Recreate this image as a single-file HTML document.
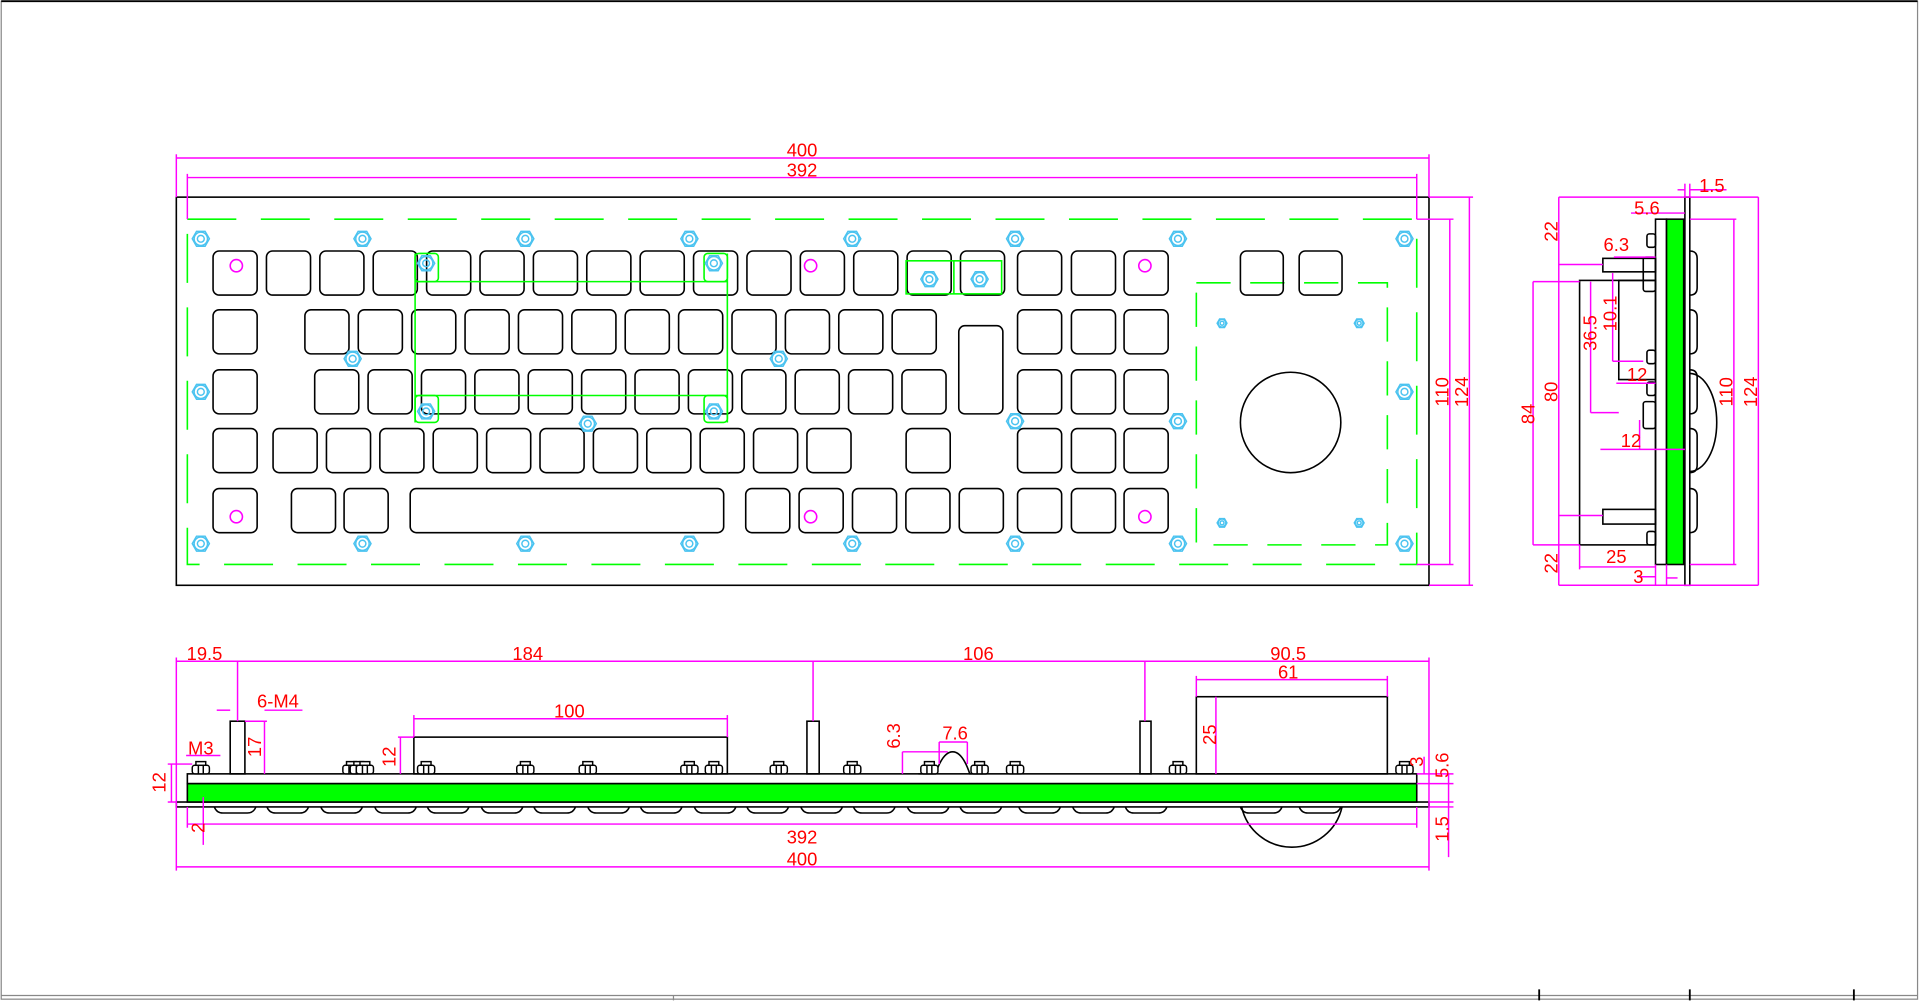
<!DOCTYPE html>
<html><head><meta charset="utf-8"><style>
html,body{margin:0;padding:0;background:#fff;overflow:hidden}
svg{display:block}
text{font-family:"Liberation Sans",sans-serif;fill:#f00;font-size:15px}
</style></head><body>
<svg id="s" width="1920" height="1001" viewBox="0 0 1568 817.5" preserveAspectRatio="none" xmlns="http://www.w3.org/2000/svg">
<g fill="none" stroke="#888" stroke-width="1">
<rect x="1" y="1" width="1565" height="815"/>
<line x1="1" y1="813" x2="1566" y2="813"/>
<line x1="550" y1="813" x2="550" y2="817"/>
</g>
<g stroke="#000" stroke-width="1.5"><line x1="1257" y1="808" x2="1257" y2="817"/><line x1="1380" y1="808" x2="1380" y2="817"/><line x1="1514" y1="808" x2="1514" y2="817"/></g>
<line x1="1" y1="1" x2="1566" y2="1" stroke="#000" stroke-width="1.5"/>

<!-- TOP VIEW -->
<rect x="144" y="161" width="1023" height="317" fill="none" stroke="#000" stroke-width="1.3"/>
<rect x="153" y="179" width="1004" height="282" fill="none" stroke="#0f0" stroke-width="1.3" stroke-dasharray="40,20"/>
<rect x="977" y="231" width="156" height="214" fill="none" stroke="#0f0" stroke-width="1.3" stroke-dasharray="28,16"/>
<circle cx="1054" cy="345" r="41" fill="none" stroke="#000" stroke-width="1.3"/>
<g id="keys" fill="none" stroke="#000" stroke-width="1.3"></g>
<g fill="none" stroke="#0f0" stroke-width="1.3">
<line x1="339" y1="230" x2="594" y2="230"/><line x1="339" y1="323" x2="594" y2="323"/>
<line x1="339" y1="207" x2="339" y2="345"/><line x1="594" y1="207" x2="594" y2="345"/>
<rect x="339" y="207" width="19" height="23" rx="3"/><rect x="575" y="207" width="19" height="23" rx="3"/>
<rect x="339" y="323" width="19" height="22" rx="3"/><rect x="575" y="323" width="19" height="22" rx="3"/>
<rect x="740" y="213" width="78" height="27"/><line x1="779" y1="213" x2="779" y2="240"/>
</g>
<g id="mag" fill="none" stroke="#f0f" stroke-width="1.3"></g>
<g id="nuts" fill="none" stroke="#4bc3f0" stroke-width="1.2"></g>

<g stroke="#f0f" stroke-width="1.2" fill="none">
<line x1="144" y1="129" x2="1167" y2="129"/><line x1="153" y1="145" x2="1157" y2="145"/>
<line x1="144" y1="126" x2="144" y2="161"/><line x1="1167" y1="126" x2="1167" y2="161"/>
<line x1="153" y1="142" x2="153" y2="179"/><line x1="1157" y1="142" x2="1157" y2="179"/>
<line x1="1184" y1="179" x2="1184" y2="461"/><line x1="1200" y1="161" x2="1200" y2="478"/>
<line x1="1167" y1="161" x2="1203" y2="161"/><line x1="1157" y1="179" x2="1187" y2="179"/>
<line x1="1157" y1="461" x2="1187" y2="461"/><line x1="1167" y1="478" x2="1203" y2="478"/>
</g>
<text x="655" y="128" text-anchor="middle">400</text>
<text x="655" y="144" text-anchor="middle">392</text>
<text transform="translate(1183,320) rotate(-90)" text-anchor="middle">110</text>
<text transform="translate(1199,320) rotate(-90)" text-anchor="middle">124</text>

<!-- SIDE VIEW -->
<g fill="none" stroke="#000" stroke-width="1.3">
<rect x="1376" y="161" width="4" height="317"/>
<rect x="1352" y="179" width="9" height="282"/>
<rect x="1290" y="229" width="62" height="216"/>
<rect x="1309" y="211" width="43" height="11"/>
<rect x="1309" y="416" width="43" height="12"/>
<polyline points="1352,229 1322,229 1322,310 1352,310"/>
<path d="M1380,305 A22,40 0 0 1 1380,385"/>
<path d="M1380,205 q6,0 6,6 v24 q0,6 -6,6"/><path d="M1380,253 q6,0 6,6 v24 q0,6 -6,6"/>
<path d="M1380,302 q6,0 6,6 v24 q0,6 -6,6"/><path d="M1380,350 q6,0 6,6 v24 q0,6 -6,6"/>
<path d="M1380,399 q6,0 6,6 v24 q0,6 -6,6"/>
<rect x="1345" y="191" width="7" height="11" rx="2"/><rect x="1342" y="210" width="10" height="28" rx="2"/>
<rect x="1345" y="286" width="7" height="11" rx="2"/><rect x="1345" y="312" width="7" height="11" rx="2"/>
<rect x="1342" y="328" width="10" height="22" rx="2"/><rect x="1345" y="434" width="7" height="11" rx="2"/>
</g>
<rect x="1361" y="179" width="14" height="282" fill="#0f0" stroke="#000" stroke-width="1.3"/>
<g stroke="#f0f" stroke-width="1.2" fill="none">
<line x1="1273" y1="161" x2="1436" y2="161"/><line x1="1273" y1="161" x2="1273" y2="478"/>
<line x1="1273" y1="478" x2="1436" y2="478"/><line x1="1436" y1="161" x2="1436" y2="478"/>
<line x1="1380" y1="179" x2="1418" y2="179"/><line x1="1380" y1="461" x2="1418" y2="461"/>
<line x1="1416" y1="179" x2="1416" y2="461"/>
<line x1="1273" y1="216" x2="1309" y2="216"/><line x1="1273" y1="421" x2="1309" y2="421"/>
<line x1="1252" y1="230" x2="1290" y2="230"/><line x1="1252" y1="230" x2="1252" y2="445"/><line x1="1252" y1="445" x2="1290" y2="445"/>
<line x1="1299" y1="230" x2="1299" y2="337"/><line x1="1299" y1="337" x2="1322" y2="337"/>
<line x1="1317" y1="223" x2="1317" y2="295"/><line x1="1317" y1="295" x2="1342" y2="295"/>
<line x1="1318" y1="210" x2="1352" y2="210"/>
<line x1="1320" y1="313" x2="1352" y2="313"/>
<line x1="1307" y1="367" x2="1376" y2="367"/><line x1="1339" y1="343" x2="1339" y2="367"/>
<line x1="1290" y1="445" x2="1290" y2="465"/><line x1="1290" y1="463" x2="1352" y2="463"/>
<line x1="1337" y1="471" x2="1352" y2="471"/><line x1="1352" y1="461" x2="1352" y2="478"/><line x1="1361" y1="461" x2="1361" y2="478"/>
<line x1="1361" y1="472" x2="1370" y2="472"/>
<line x1="1332" y1="174" x2="1376" y2="174"/>
<line x1="1370" y1="155" x2="1376" y2="155"/><line x1="1380" y1="155" x2="1410" y2="155"/><line x1="1376" y1="150" x2="1376" y2="161"/><line x1="1380" y1="150" x2="1380" y2="161"/>
</g>
<text x="1345" y="175" text-anchor="middle">5.6</text>
<text x="1398" y="157" text-anchor="middle">1.5</text>
<text x="1320" y="205" text-anchor="middle">6.3</text>
<text x="1337" y="311" text-anchor="middle">12</text>
<text x="1332" y="365" text-anchor="middle">12</text>
<text x="1320" y="460" text-anchor="middle">25</text>
<text x="1338" y="476" text-anchor="middle">3</text>
<text transform="translate(1272,189) rotate(-90)" text-anchor="middle">22</text>
<text transform="translate(1272,460) rotate(-90)" text-anchor="middle">22</text>
<text transform="translate(1253,338) rotate(-90)" text-anchor="middle">84</text>
<text transform="translate(1272,320) rotate(-90)" text-anchor="middle">80</text>
<text transform="translate(1304,272) rotate(-90)" text-anchor="middle">36.5</text>
<text transform="translate(1320,256) rotate(-90)" text-anchor="middle">10.1</text>
<text transform="translate(1415,320) rotate(-90)" text-anchor="middle">110</text>
<text transform="translate(1435,320) rotate(-90)" text-anchor="middle">124</text>

<!-- BOTTOM VIEW -->
<g fill="none" stroke="#000" stroke-width="1.3" id="bot">
<rect x="153" y="632" width="1004" height="8"/>
<rect x="144" y="655" width="1023" height="4"/>
<path d="M1014,659 A42,42 0 0 0 1096,659"/>
<rect x="188" y="589" width="12" height="43"/><rect x="659" y="589" width="10" height="43"/><rect x="931" y="589" width="9" height="43"/>
<rect x="338" y="602" width="256" height="30"/><rect x="977" y="569" width="156" height="63"/>
<path d="M750,632 h14 q6,-18 14,-18 q8,0 14,18 h14"/>
</g>
<rect x="153" y="640" width="1004" height="15" fill="#0f0" stroke="#000" stroke-width="1.3"/>
<g stroke="#f0f" stroke-width="1.2" fill="none">
<line x1="144" y1="540" x2="1167" y2="540"/>
<line x1="144" y1="537" x2="144" y2="711"/><line x1="1167" y1="537" x2="1167" y2="711"/>
<line x1="194" y1="540" x2="194" y2="589"/><line x1="664" y1="540" x2="664" y2="589"/><line x1="935" y1="540" x2="935" y2="589"/>
<line x1="977" y1="555" x2="1133" y2="555"/><line x1="977" y1="552" x2="977" y2="569"/><line x1="1133" y1="552" x2="1133" y2="569"/>
<line x1="338" y1="587" x2="594" y2="587"/><line x1="338" y1="584" x2="338" y2="602"/><line x1="594" y1="584" x2="594" y2="602"/>
<line x1="153" y1="673" x2="1157" y2="673"/><line x1="153" y1="659" x2="153" y2="676"/><line x1="1157" y1="659" x2="1157" y2="676"/>
<line x1="144" y1="708" x2="1167" y2="708"/>
<line x1="137" y1="624" x2="157" y2="624"/><line x1="137" y1="655" x2="144" y2="655"/><line x1="140" y1="624" x2="140" y2="655"/>
<line x1="216" y1="589" x2="216" y2="632"/><line x1="200" y1="589" x2="218" y2="589"/>
<line x1="325" y1="602" x2="338" y2="602"/><line x1="327" y1="602" x2="327" y2="632"/>
<line x1="216" y1="580" x2="247" y2="580"/><line x1="177" y1="580" x2="188" y2="580"/>
<line x1="152" y1="617" x2="180" y2="617"/>
<line x1="166" y1="659" x2="166" y2="690"/><line x1="166" y1="651" x2="166" y2="659"/>
<line x1="737" y1="614" x2="737" y2="632"/><line x1="737" y1="614" x2="774" y2="614"/>
<line x1="767" y1="606" x2="790" y2="606"/><line x1="767" y1="606" x2="767" y2="624"/><line x1="790" y1="606" x2="790" y2="624"/>
<line x1="993" y1="569" x2="993" y2="632"/>
<line x1="1157" y1="632" x2="1187" y2="632"/><line x1="1157" y1="640" x2="1187" y2="640"/><line x1="1167" y1="655" x2="1187" y2="655"/><line x1="1167" y1="659" x2="1187" y2="659"/>
<line x1="1163" y1="618" x2="1163" y2="632"/><line x1="1183" y1="632" x2="1183" y2="700"/>
</g>
<g id="bnuts" fill="#fff" stroke="#000" stroke-width="1.2"></g>
<g id="bkeys" fill="none" stroke="#000" stroke-width="1.2"></g>
<text x="167" y="539" text-anchor="middle">19.5</text>
<text x="431" y="539" text-anchor="middle">184</text>
<text x="799" y="539" text-anchor="middle">106</text>
<text x="1052" y="539" text-anchor="middle">90.5</text>
<text x="1052" y="554" text-anchor="middle">61</text>
<text x="465" y="586" text-anchor="middle">100</text>
<text x="655" y="689" text-anchor="middle">392</text>
<text x="655" y="707" text-anchor="middle">400</text>
<text x="227" y="578" text-anchor="middle">6-M4</text>
<text x="164" y="616" text-anchor="middle">M3</text>
<text x="780" y="604" text-anchor="middle">7.6</text>
<text transform="translate(135,639) rotate(-90)" text-anchor="middle">12</text>
<text transform="translate(213,610) rotate(-90)" text-anchor="middle">17</text>
<text transform="translate(323,618) rotate(-90)" text-anchor="middle">12</text>
<text transform="translate(167,676) rotate(-90)" text-anchor="middle">2</text>
<text transform="translate(735,601) rotate(-90)" text-anchor="middle">6.3</text>
<text transform="translate(993,600) rotate(-90)" text-anchor="middle">25</text>
<text transform="translate(1162,622) rotate(-90)" text-anchor="middle">3</text>
<text transform="translate(1183,625) rotate(-90)" text-anchor="middle">5.6</text>
<text transform="translate(1183,677) rotate(-90)" text-anchor="middle">1.5</text>
</svg>
<script>
var NS="http://www.w3.org/2000/svg";
function el(p,t,a){var e=document.createElementNS(NS,t);for(var k in a)e.setAttribute(k,a[k]);document.getElementById(p).appendChild(e);return e;}
function key(x,y,w,h){el("keys","rect",{x:x,y:y,width:w||36,height:h||36,rx:5});}
var st=43.6,i;
for(i=0;i<15;i++)key(174+i*st,205);
[831,875,918].forEach(function(x){[205,253,302,350,399].forEach(function(y){key(x,y);});});
key(1013,205,35);key(1061,205,35);
key(174,253);for(i=0;i<12;i++)key(249+i*st,253);
key(783,266,36,72);
key(174,302);for(i=0;i<12;i++)key(257+i*st,302);
key(174,350);for(i=0;i<11;i++)key(223+i*st,350);key(740,350);
key(174,399);key(238,399);key(281,399);key(335,399,256,36);
for(i=0;i<5;i++)key(609+i*st,399);
[[193,217],[662,217],[935,217],[193,422],[662,422],[935,422]].forEach(function(p){el("mag","circle",{cx:p[0],cy:p[1],r:5});});
function nut(cx,cy,r){var pts=[];for(var k=0;k<6;k++){var a=Math.PI/3*k;pts.push((cx+r*Math.cos(a)).toFixed(1)+","+(cy+r*Math.sin(a)).toFixed(1));}
el("nuts","polygon",{points:pts.join(" ")});el("nuts","circle",{cx:cx,cy:cy,r:r*0.78});el("nuts","circle",{cx:cx,cy:cy,r:r*0.4});}
[[164,195],[296,195],[429,195],[563,195],[696,195],[829,195],[962,195],[1147,195],[164,320],[288,293],[636,293],[480,346],[829,344],[962,344],[1147,320],
[164,444],[296,444],[429,444],[563,444],[696,444],[829,444],[962,444],[1147,444],[348,215],[583,215],[348,336],[583,336],[759,228],[800,228]].forEach(function(p){nut(p[0],p[1],7);});
[[998,264],[1110,264],[998,427],[1110,427]].forEach(function(p){nut(p[0],p[1],4);});
[164,287,293,298,348,429,480,563,583,636,696,759,800,829,962,1147].forEach(function(x){
el("bnuts","rect",{x:x-7,y:625,width:14,height:7,rx:2});el("bnuts","rect",{x:x-4,y:622,width:8,height:3});
el("bnuts","line",{x1:x-2,y1:625,x2:x-2,y2:632});el("bnuts","line",{x1:x+2,y1:625,x2:x+2,y2:632});});
var bx=[174,217,261,305,348,392,435,479,522,566,609,653,696,740,783,831,875,918];
bx.forEach(function(x){el("bkeys","path",{d:"M"+(x+1)+",659 q2,5 7,5 h20 q5,0 7,-5"});});
[1013,1061].forEach(function(x){el("bkeys","path",{d:"M"+x+",659 q2,5 7,5 h20 q5,0 7,-5"});});
</script>
</body></html>
